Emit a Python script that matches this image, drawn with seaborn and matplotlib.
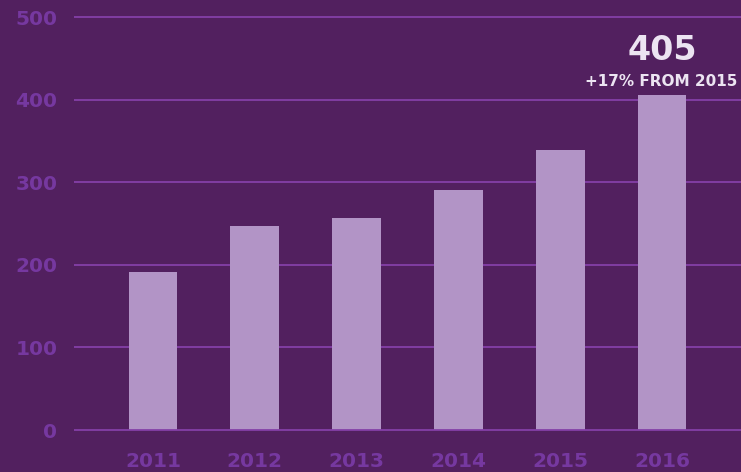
import seaborn as sns
import pandas as pd
import matplotlib.pyplot as plt

# data
years = ["2011", "2012", "2013", "2014", "2015", "2016"]
values = [191, 247, 257, 290, 339, 405]
y_ticks = [0, 100, 200, 300, 400, 500]
headline = "405"
subline = "+17% FROM 2015"

bg = "#52205F"
bar_color = "#B294C6"
grid_color = "#8440A8"
label_color = "#7638A0"
text_color = "#ECE4F2"

df = pd.DataFrame({"year": years, "value": values})

sns.set_style("white")
plt.rcParams['font.family'] = ['DejaVu Sans']

fig = plt.figure(figsize=(7.41, 4.72), dpi=100)
fig.patch.set_facecolor(bg)
ax = fig.add_axes([74 / 741, 1 - 434 / 472, 1 - 74 / 741, 434 / 472])
ax.set_facecolor(bg)

for t in y_ticks[1:]:
    ax.axhline(t, color=grid_color, lw=1.3, zorder=0)

sns.barplot(data=df, x="year", y="value", color=bar_color, width=0.48,
            saturation=1, linewidth=0, ax=ax, zorder=2)
ax.axhline(0, color=grid_color, lw=1.3, zorder=3)

ax.set_xlim(-0.776, 5.776)
ax.set_ylim(-4.8, 520.6)
ax.set_yticks(y_ticks)
ax.set_yticklabels([str(t) for t in y_ticks])
ax.set_xlabel("")
ax.set_ylabel("")
for s in ax.spines.values():
    s.set_visible(False)
ax.tick_params(axis="y", length=0, pad=12, labelsize=14.5, labelcolor=label_color)
ax.tick_params(axis="x", length=0, pad=13, labelsize=14.5, labelcolor=label_color)
for lbl in ax.get_xticklabels() + ax.get_yticklabels():
    lbl.set_fontweight("bold")

# callout above last bar
last = len(values) - 1
ax.text(last, values[last] + 55, headline, ha="center", va="center",
        fontsize=24, fontweight="bold", color=text_color)
ax.text(last - 0.01, values[last] + 17, subline, ha="center", va="center",
        fontsize=11, fontweight="bold", color=text_color)

fig.savefig("out.png", dpi=100, facecolor=bg)
